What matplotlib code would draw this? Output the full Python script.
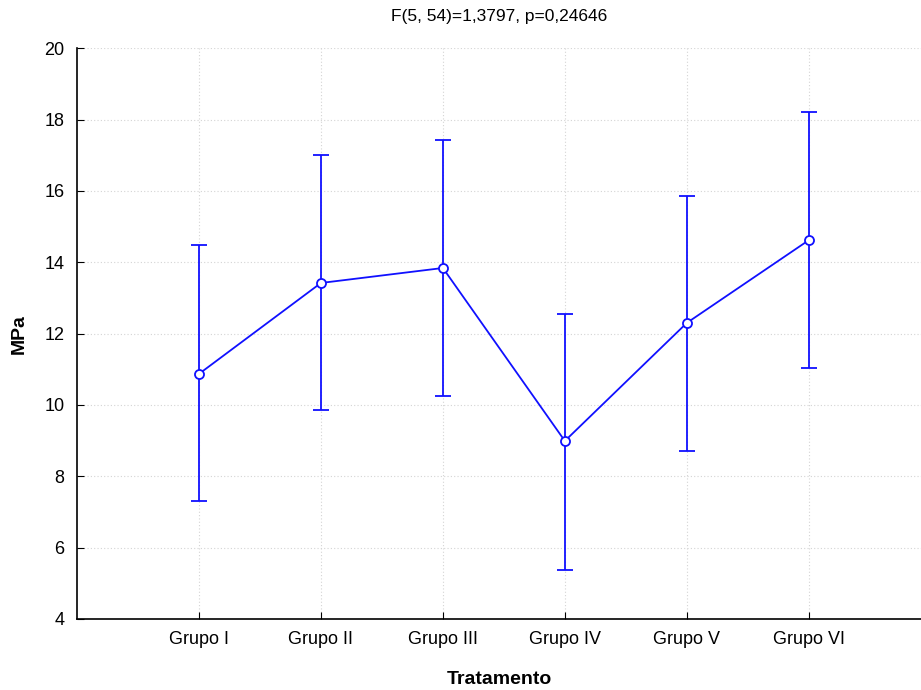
import matplotlib
matplotlib.use("Agg")
import matplotlib.pyplot as plt
import numpy as np

plt.rcParams['font.family'] = ['Liberation Sans', 'DejaVu Sans']

grupos = ["Grupo I", "Grupo II", "Grupo III", "Grupo IV", "Grupo V", "Grupo VI"]
media = [10.87, 13.42, 13.84, 8.99, 12.30, 14.62]
sup = [14.48, 17.02, 17.42, 12.55, 15.87, 18.21]
inf = [7.31, 9.86, 10.25, 5.38, 8.71, 11.04]

x = np.arange(len(grupos))
err = [np.array(media) - np.array(inf), np.array(sup) - np.array(media)]

fig = plt.figure(figsize=(9.21, 6.9), dpi=100)
ax = fig.add_axes([0.0836, 0.103, 0.9164, 0.827])

ax.errorbar(x, media, yerr=err, color='#1010ff', lw=1.3, capsize=6,
            capthick=1.3, marker='o', markersize=6.5, markerfacecolor='white',
            markeredgecolor='#1010ff', markeredgewidth=1.3, zorder=3)

ax.set_xlim(-1, 5.92)
ax.set_ylim(4, 20)
ax.set_yticks(np.arange(4, 21, 2))
ax.set_xticks(x)
ax.set_xticklabels(grupos)
ax.grid(True, color='#d4d4d4', linestyle=(0, (1, 2)), linewidth=0.8)
ax.spines['top'].set_visible(False)
ax.spines['right'].set_visible(False)
ax.spines['left'].set_linewidth(1.2)
ax.spines['bottom'].set_linewidth(1.2)
ax.tick_params(direction='in', length=5, labelsize=13, pad=9)

ax.set_title("F(5, 54)=1,3797, p=0,24646", fontsize=12.5, pad=20)
ax.set_xlabel("Tratamento", fontsize=14, fontweight='bold', labelpad=16)
ax.set_ylabel("MPa", fontsize=14, fontweight='bold', labelpad=12)

fig.savefig("out.png", dpi=100)
